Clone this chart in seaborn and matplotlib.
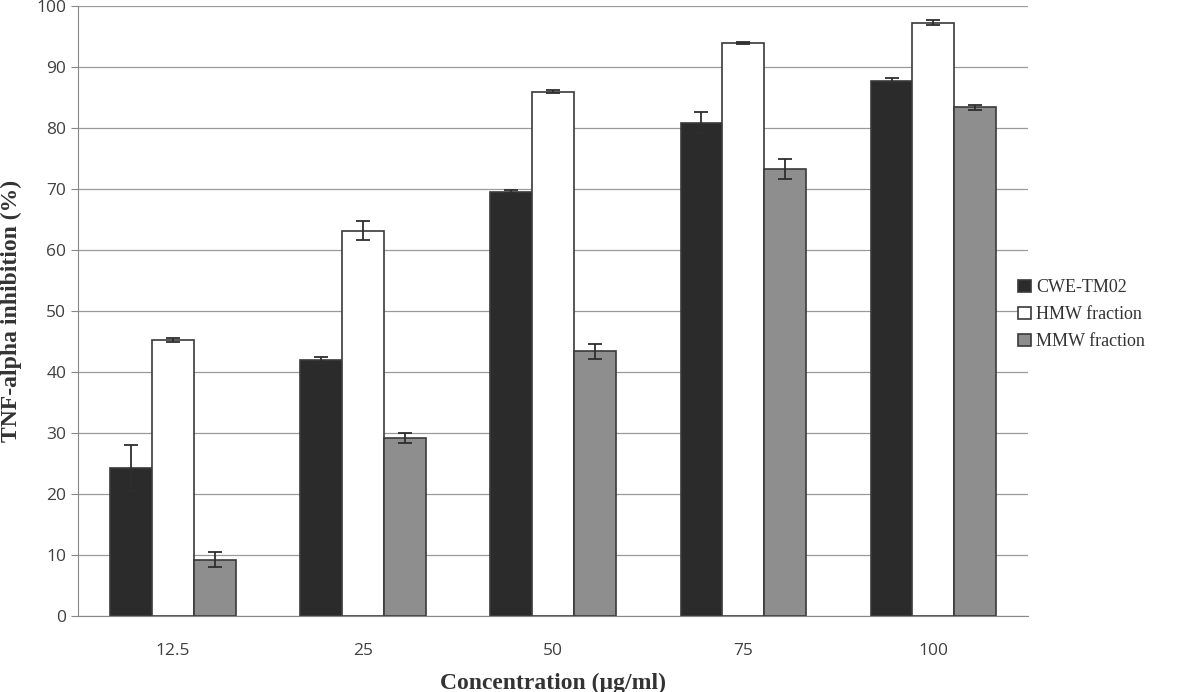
import pandas as pd
import matplotlib.pyplot as plt
import seaborn as sns

concentrations = ["12.5", "25", "50", "75", "100"]
series = ["CWE-TM02", "HMW fraction", "MMW fraction"]

cwe_mean = [24.3, 42.0, 69.6, 80.9, 87.8]
cwe_err = [3.8, 0.5, 0.2, 1.7, 0.4]
hmw_mean = [45.3, 63.2, 86.0, 94.0, 97.3]
hmw_err = [0.3, 1.6, 0.2, 0.2, 0.4]
mmw_mean = [9.2, 29.2, 43.4, 73.3, 83.4]
mmw_err = [1.2, 0.8, 1.2, 1.6, 0.4]

colors = ["#2b2b2b", "#ffffff", "#8e8e8e"]

rows = []
for name, means, errs in zip(series, [cwe_mean, hmw_mean, mmw_mean], [cwe_err, hmw_err, mmw_err]):
    for c, m, e in zip(concentrations, means, errs):
        rows.append({"conc": c, "series": name, "value": m, "err": e})
df = pd.DataFrame(rows)

sns.set_style("white")
fig = plt.figure(figsize=(12, 6.92), dpi=100)
ax = fig.add_axes([0.065, 0.110, 0.792, 0.881])

sns.barplot(
    data=df, x="conc", y="value", hue="series",
    order=concentrations, hue_order=series,
    palette=colors, errorbar=None, width=0.66,
    edgecolor="#3a3a3a", linewidth=1.2, saturation=1, ax=ax
)

# error bars on top of the bars seaborn drew
for container, name in zip(ax.containers, series):
    sub = df[df["series"] == name].set_index("conc").loc[concentrations]
    xs = [p.get_x() + p.get_width() / 2 for p in container.patches]
    ax.errorbar(xs, sub["value"], yerr=sub["err"], fmt="none",
                ecolor="#2e2e2e", elinewidth=1.3, capsize=5, capthick=1.3, zorder=5)

ax.set_xlim(-0.5, len(concentrations) - 0.5)
ax.set_ylim(0, 100)
ax.set_yticks(range(0, 101, 10))
ax.yaxis.grid(True, color="#9a9a9a", linewidth=0.9)
ax.set_axisbelow(True)

for side in ["top", "right"]:
    ax.spines[side].set_visible(False)
ax.spines["left"].set_color("#888888")
ax.spines["bottom"].set_color("#888888")

ax.tick_params(axis="y", which="both", left=True, length=5, color="#888888",
               labelsize=12.5, labelcolor="#404040")
ax.tick_params(axis="x", bottom=False, labelsize=12.5, labelcolor="#404040", pad=16)
for lab in ax.get_xticklabels() + ax.get_yticklabels():
    lab.set_family("Open Sans")

ax.set_xlabel("Concentration (µg/ml)", family="Liberation Serif", fontsize=17,
              fontweight="bold", color="#333333", labelpad=10)
ax.set_ylabel("TNF-alpha inhibition (%)", family="Liberation Serif", fontsize=17,
              fontweight="bold", color="#333333", labelpad=10)

handles, labels = ax.get_legend_handles_labels()
ax.legend(handles, labels, loc="center left", bbox_to_anchor=(0.835, 0.545),
          bbox_transform=fig.transFigure, frameon=False,
          prop={"family": "Liberation Serif", "size": 13},
          handlelength=0.7, handleheight=0.7, handletextpad=0.3, labelspacing=0.55,
          labelcolor="#333333")

fig.savefig("out.png", dpi=100)
